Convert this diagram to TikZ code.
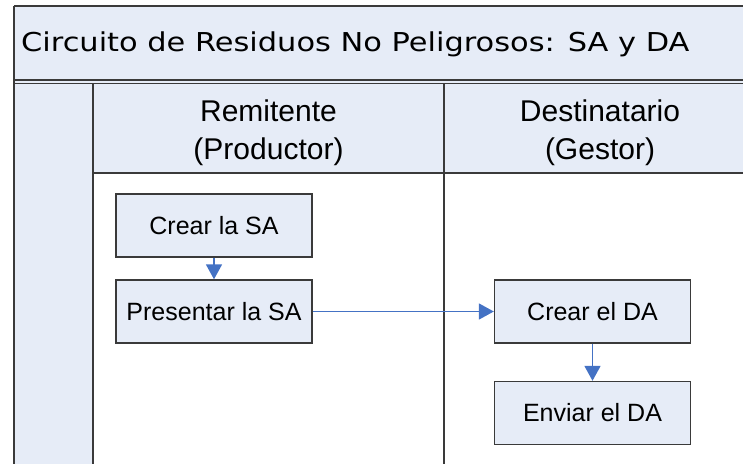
\documentclass[tikz,border=0pt]{standalone}
\usepackage{fontspec}
\setmainfont{Liberation Sans}
\newfontfamily\titulofont[FakeStretch=1.17]{DejaVu Sans}
\usetikzlibrary{arrows.meta}
\definecolor{fondo}{RGB}{230,236,247}
\definecolor{borde}{RGB}{58,58,58}
\definecolor{azul}{RGB}{68,114,196}

\begin{document}
\begin{tikzpicture}[x=1pt, y=-1pt]
\tikzset{caja/.style={draw=borde, line width=1.4pt, fill=fondo, minimum width=196pt, minimum height=63pt, inner sep=0pt, font=\fontsize{25}{30}\selectfont},
carril/.style={draw=borde, line width=1.5pt},
cabecera/.style={align=center, inner sep=0pt, font=\fontsize{30}{38}\selectfont},
flecha/.style={draw=azul, line width=1.7pt, -{Triangle[width=16pt, length=15pt]}}}
\clip (0, 0) rectangle (743, 463);
\fill[fondo] (14, 6) rectangle (760, 84);
\fill[fondo] (14, 84) rectangle (93, 470);
\fill[fondo] (93, 84) rectangle (760, 173);
\draw[carril] (14, 6) -- (760, 6);
\draw[carril] (14, 80) -- (760, 80);
\draw[carril] (14, 83.5) -- (760, 83.5);
\draw[carril] (14, 6) -- (14, 470);
\draw[carril] (93, 83.5) -- (93, 470);
\draw[carril] (444, 83.5) -- (444, 470);
\draw[carril] (93, 173) -- (760, 173);
\node[anchor=base west, inner sep=0pt, font=\titulofont\fontsize{26}{30}\selectfont] (titulo) at (21, 51) {Circuito de Residuos No Peligrosos: SA y DA};
\node[cabecera] (remitente) at (268.5, 132.4) {Remitente\\(Productor)};
\node[cabecera] (destinatario) at (600, 132.4) {Destinatario\\(Gestor)};
\node[caja] (crearSA) at (214, 225.5) {Crear la SA};
\node[caja] (presentarSA) at (214, 311.5) {Presentar la SA};
\node[caja] (crearDA) at (592.5, 311.5) {Crear el DA};
\node[caja] (enviarDA) at (592.5, 413) {Enviar el DA};
\draw[flecha] (crearSA) -- (presentarSA);
\draw[flecha] (presentarSA) -- (crearDA);
\draw[flecha] (crearDA) -- (enviarDA);
\end{tikzpicture}
\end{document}
